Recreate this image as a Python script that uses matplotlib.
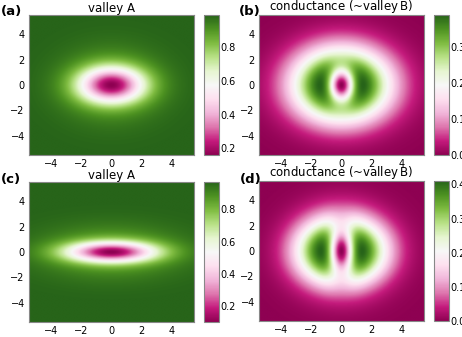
import numpy as np
import matplotlib
matplotlib.use("Agg")
import matplotlib.pyplot as plt

# plot window (same in x and y)
half_size = 5.5
n_grid = 300

# valley A panels (a) and (c): value at centre, far value,
# core dip (depth, x width, y width) and faint halo (depth, x width, y width)
valley_centre = [0.16, 0.10]
valley_far = [0.99, 0.97]
valley_core = [(0.70, 2.2, 1.4), (0.72, 3.0, 0.8)]
valley_halo = [(0.13, 3.2, 2.7), (0.15, 4.4, 1.9)]
valley_clim = [(0.16, 0.99), (0.10, 0.97)]

# conductance panels (b) and (d): peak value and shape terms
# each term: (weight, envelope x, envelope y, hole x, hole y)
cond_peak = [0.39, 0.41]
cond_terms_b = [(1.0, 3.0, 2.7, 0.9, 1.5), (0.1, 3.4, 3.0, 1.8, 1.8)]
cond_terms_d = [(1.0, 2.5, 2.2, 0.85, 3.0), (0.45, 2.8, 2.9, 1.8, 1.8)]
cond_clim = [(0.0, 0.39), (0.0, 0.41)]

labels = ["(a)", "(b)", "(c)", "(d)"]
titles = ["valley A", r"conductance (~valley$\,\mathrm{B}$)",
          "valley A", r"conductance (~valley$\,\mathrm{B}$)"]

xs = np.linspace(-half_size, half_size, n_grid)
X, Y = np.meshgrid(xs, xs)


def valley_field(i):
    d1, wx1, wy1 = valley_core[i]
    d2, wx2, wy2 = valley_halo[i]
    dip = d1 * np.exp(-(X / wx1) ** 2 - (Y / wy1) ** 2) \
        + d2 * np.exp(-(X / wx2) ** 2 - (Y / wy2) ** 2)
    return valley_far[i] - dip


def cond_field(peak, terms):
    g = np.zeros_like(X)
    for w, sx, sy, hx, hy in terms:
        env = np.exp(-(X / sx) ** 2 - (Y / sy) ** 2)
        hole = 1 - np.exp(-(X / hx) ** 2 - (Y / hy) ** 2)
        g += w * env * hole
    return peak * g / g.max()


fields = [valley_field(0), cond_field(cond_peak[0], cond_terms_b),
          valley_field(1), cond_field(cond_peak[1], cond_terms_d)]
clims = [valley_clim[0], cond_clim[0], valley_clim[1], cond_clim[1]]

W, H = 462, 337
fig = plt.figure(figsize=(W / 100, H / 100), dpi=100)

# pixel boxes: (left, top, right, bottom)
img_boxes = [(29, 15, 194, 155), (259, 15, 424, 155),
             (29, 182, 194, 322), (259, 181, 424, 321)]
label_pos = [(1, 11), (239, 11), (1, 179), (240, 179)]


def fig_rect(l, t, r, b):
    return [l / W, 1 - b / H, (r - l) / W, (b - t) / H]


for k in range(4):
    l, t, r, b = img_boxes[k]
    ax = fig.add_axes(fig_rect(l, t, r, b))
    im = ax.imshow(fields[k], cmap="PiYG", origin="lower",
                   extent=[-half_size, half_size, -half_size, half_size],
                   aspect="auto", vmin=clims[k][0], vmax=clims[k][1],
                   interpolation="bilinear")
    ax.set_xticks([-4, -2, 0, 2, 4])
    ax.set_yticks([-4, -2, 0, 2, 4])
    ax.tick_params(labelsize=7, direction="in", length=0, pad=3)
    for s in ax.spines.values():
        s.set_edgecolor("#888888")
    ax.set_title(titles[k], fontsize=8.5, pad=1)

    cax = fig.add_axes(fig_rect(r + 10, t, r + 25, b))
    cb = fig.colorbar(im, cax=cax)
    cb.outline.set_edgecolor("#888888")
    cb.ax.tick_params(labelsize=7, length=0, pad=1)

    fig.text(label_pos[k][0] / W, 1 - label_pos[k][1] / H, labels[k],
             fontsize=9.5, fontweight="bold", va="center", ha="left")

fig.savefig("out.png", dpi=100)
